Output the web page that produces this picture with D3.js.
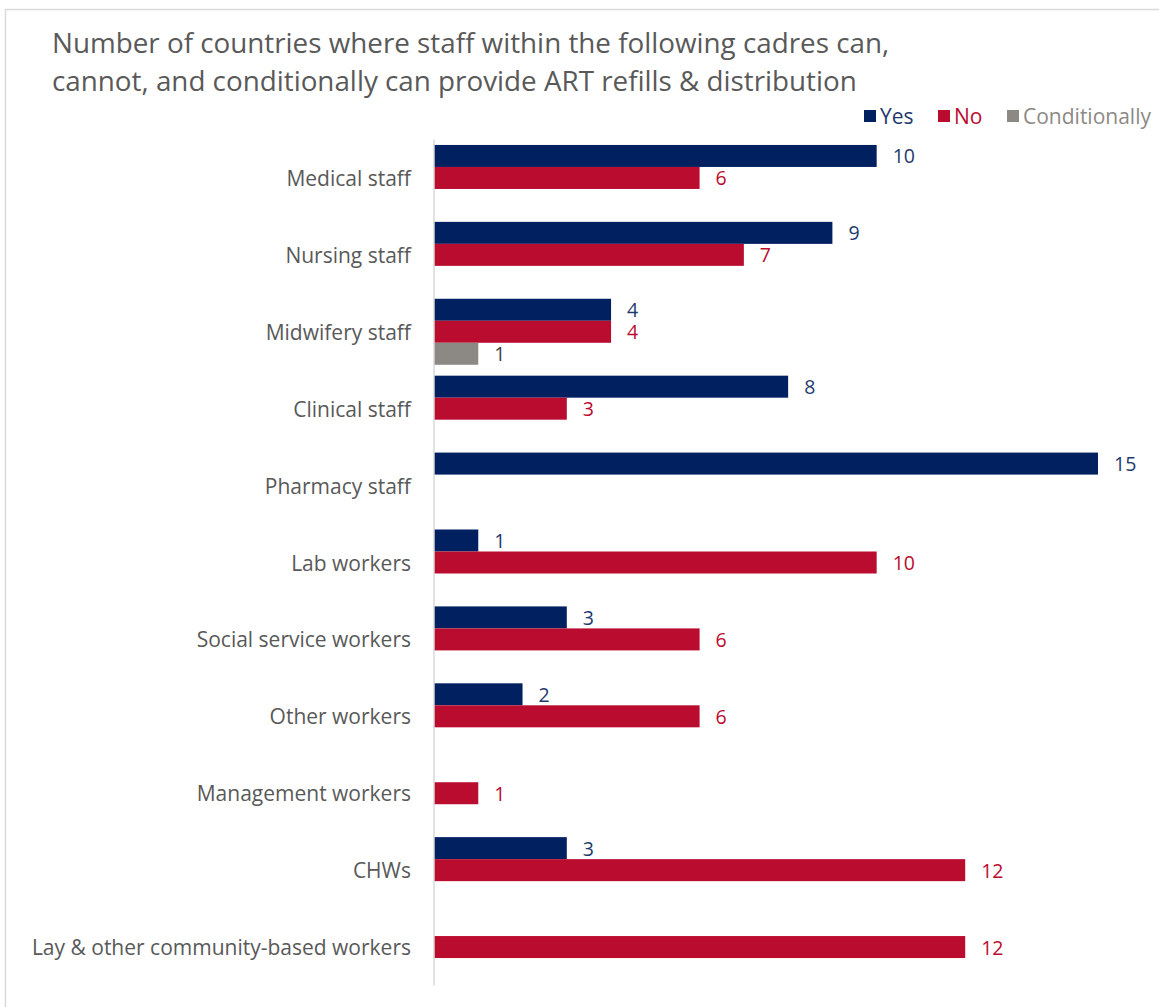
<!DOCTYPE html>
<html>
<head>
  <title>ART refills & distribution by cadre</title>
  <script src="https://cdn.jsdelivr.net/npm/d3@7/dist/d3.min.js"></script>
  <style>
    body { margin: 0; background: #fff; }
    svg text { font-family: "Open Sans", "Noto Sans", sans-serif; }
  </style>
</head>
<body>
  <div id="chart"></div>
  <script>
    // data
    const categories = ['Medical staff', 'Nursing staff', 'Midwifery staff', 'Clinical staff',
      'Pharmacy staff', 'Lab workers', 'Social service workers', 'Other workers',
      'Management workers', 'CHWs', 'Lay & other community-based workers'];
    const seriesNames = ['Yes', 'No', 'Conditionally'];
    const yesValues = [10, 9, 4, 8, 15, 1, 3, 2, null, 3, null];
    const noValues = [6, 7, 4, 3, null, 10, 6, 6, 1, 12, 12];
    const condValues = [null, null, 1, null, null, null, null, null, null, null, null];
    const titleLines = ['Number of countries where staff within the following cadres can,',
      'cannot, and conditionally can provide ART refills & distribution'];

    const barColors = { 'Yes': '#002060', 'No': '#BA0C2F', 'Conditionally': '#8C8985' };
    const labelColors = { 'Yes': '#1F3A6E', 'No': '#BA0C2F', 'Conditionally': '#404040' };

    const width = 1159, height = 1007;
    const svg = d3.select('#chart').append('svg')
      .attr('width', width)
      .attr('height', height);

    // chart frame
    svg.append('rect')
      .attr('x', 5.5).attr('y', 9.5)
      .attr('width', 1300).attr('height', 1200)
      .attr('fill', 'none')
      .attr('stroke', '#d9d9d9')
      .attr('stroke-width', 1.5);

    // title
    svg.append('text')
      .attr('x', 52)
      .attr('y', 53)
      .attr('font-size', 27.8)
      .attr('fill', '#595959')
      .selectAll('tspan')
      .data(titleLines)
      .join('tspan')
      .attr('x', 52)
      .attr('dy', (d, i) => i === 0 ? 0 : 38)
      .text(d => d);

    const x = d3.scaleLinear()
      .domain([0, 15])
      .range([434, 1098]);

    const y = d3.scaleBand()
      .domain(categories)
      .range([139.5, 985.5]);

    const ySub = d3.scaleBand()
      .domain(seriesNames)
      .range([0, y.bandwidth()])
      .paddingInner(0)
      .paddingOuter(0.2477);

    const rows = categories.map((c, i) => ({
      category: c,
      values: [
        { key: 'Yes', value: yesValues[i] },
        { key: 'No', value: noValues[i] },
        { key: 'Conditionally', value: condValues[i] }
      ].filter(d => d.value != null)
    }));

    // category labels
    svg.append('g')
      .selectAll('text')
      .data(categories)
      .join('text')
      .attr('x', 411)
      .attr('y', d => y(d) + y.bandwidth() / 2)
      .attr('text-anchor', 'end')
      .attr('dominant-baseline', 'central')
      .attr('font-size', 21)
      .attr('fill', '#595959')
      .text(d => d);

    const groups = svg.append('g')
      .selectAll('g')
      .data(rows)
      .join('g')
      .attr('transform', d => `translate(0,${y(d.category)})`);

    groups.selectAll('rect')
      .data(d => d.values)
      .join('rect')
      .attr('x', x(0))
      .attr('y', d => ySub(d.key))
      .attr('width', d => x(d.value) - x(0))
      .attr('height', ySub.bandwidth())
      .attr('fill', d => barColors[d.key]);

    groups.selectAll('text')
      .data(d => d.values)
      .join('text')
      .attr('x', d => x(d.value) + 16)
      .attr('y', d => ySub(d.key) + ySub.bandwidth() / 2)
      .attr('dominant-baseline', 'central')
      .attr('font-size', 19.5)
      .attr('fill', d => labelColors[d.key])
      .text(d => d.value);

    // vertical axis line
    svg.append('line')
      .attr('x1', x(0)).attr('x2', x(0))
      .attr('y1', y.range()[0]).attr('y2', y.range()[1])
      .attr('stroke', '#d9d9d9')
      .attr('stroke-width', 1.5);

    // legend
    const legendX = [864, 938, 1007];
    const legend = svg.append('g')
      .selectAll('g')
      .data(seriesNames)
      .join('g')
      .attr('transform', (d, i) => `translate(${legendX[i]},116)`);

    legend.append('rect')
      .attr('x', 0).attr('y', -6)
      .attr('width', 12).attr('height', 12)
      .attr('fill', d => barColors[d]);

    legend.append('text')
      .attr('x', 16)
      .attr('y', 0)
      .attr('dominant-baseline', 'central')
      .attr('font-size', 21)
      .attr('fill', d => d === 'Conditionally' ? '#8C8985' : labelColors[d])
      .text(d => d);
  </script>
</body>
</html>
